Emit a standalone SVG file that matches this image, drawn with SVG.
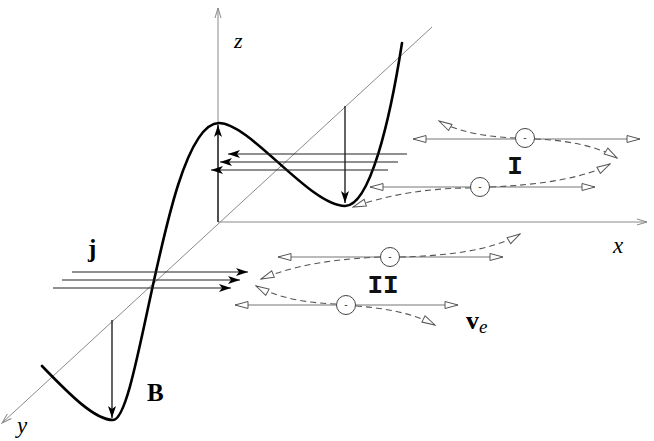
<svg xmlns="http://www.w3.org/2000/svg" width="654" height="441" viewBox="0 0 654 441">
<style>
.axis{stroke:#8a8a8a;stroke-width:1;fill:none}
.curve{stroke:#000;stroke-width:2.6;fill:none;stroke-linecap:round}
.barr{stroke:#111;stroke-width:1.3;fill:none}
.jl{stroke:#222;stroke-width:1.2;fill:none}
.el{stroke:#777;stroke-width:1.1;fill:none}
.dash{stroke:#555;stroke-width:1.1;fill:none;stroke-dasharray:6 4}
.ec{stroke:#444;stroke-width:1;fill:#fff}
.minus{font-family:"Liberation Sans",sans-serif;font-size:10px;fill:#333;text-anchor:middle}
.lab{font-family:"Liberation Serif",serif;fill:#000}
.mono{font-family:"Liberation Mono",monospace;font-weight:bold;fill:#111}
</style>
<defs>
<marker id="fa" viewBox="0 0 12 8" refX="12" refY="4" markerWidth="12" markerHeight="8" markerUnits="userSpaceOnUse" orient="auto">
<path d="M0,0 L12,4 L0,8 L3,4 z" fill="#000"/>
</marker>
<marker id="oa" viewBox="-1 -1 15 9" refX="13" refY="3.5" markerWidth="15" markerHeight="9" markerUnits="userSpaceOnUse" orient="auto-start-reverse">
<path d="M0,0 L13,3.5 L0,7 z" fill="#fff" stroke="#555" stroke-width="1"/>
</marker>
<marker id="ax" viewBox="-1 -1 12 8" refX="10" refY="3" markerWidth="12" markerHeight="8" markerUnits="userSpaceOnUse" orient="auto">
<path d="M0,0 L10,3 L0,6" fill="none" stroke="#8a8a8a" stroke-width="1"/>
</marker>
</defs>

<g id="axes">
<line class="axis" x1="218" y1="222" x2="218" y2="8" marker-end="url(#ax)"/>
<line class="axis" x1="218" y1="222" x2="647" y2="222" marker-end="url(#ax)"/>
<line class="axis" x1="432" y1="27" x2="2" y2="423" marker-end="url(#ax)"/>
<text class="lab" x="234" y="48" font-size="22" font-style="italic">z</text>
<text class="lab" x="613" y="253" font-size="23" font-style="italic">x</text>
<text class="lab" x="17" y="433" font-size="23" font-style="italic">y</text>
</g>

<g id="field-B">
<path class="curve" d="M42,366 C70,395 95,420 113,420 C140,420 165,123 219,123 C250,123 310,206 345,206 C370,206 390,120 402,43"/>
<text class="lab" x="147" y="401" font-size="25" font-weight="bold">B</text>
</g>

<g id="connectors">
<line class="barr" x1="112" y1="320" x2="112" y2="418" marker-end="url(#fa)"/>
<line class="barr" x1="218" y1="222" x2="218" y2="125" marker-end="url(#fa)"/>
<line class="barr" x1="345" y1="106" x2="345" y2="203" marker-end="url(#fa)"/>
<line class="jl" x1="72" y1="272" x2="248" y2="272" marker-end="url(#fa)"/>
<line class="jl" x1="62" y1="280" x2="240" y2="280" marker-end="url(#fa)"/>
<line class="jl" x1="53" y1="288" x2="231" y2="288" marker-end="url(#fa)"/>
<line class="jl" x1="407" y1="154" x2="228" y2="154" marker-end="url(#fa)"/>
<line class="jl" x1="398" y1="162" x2="220" y2="162" marker-end="url(#fa)"/>
<line class="jl" x1="388" y1="170" x2="211" y2="170" marker-end="url(#fa)"/>
</g>

<g id="current-j">
<text class="lab" x="88" y="257" font-size="25" font-weight="bold">j</text>
</g>

<g id="region-I">
<line class="el" x1="413" y1="139" x2="640" y2="139" marker-start="url(#oa)" marker-end="url(#oa)"/>
<path class="dash" d="M516,138 C490,137 460,133 439,121" marker-end="url(#oa)"/>
<path class="dash" d="M535,139 C565,140 598,146 617,158" marker-end="url(#oa)"/>
<circle class="ec" cx="525" cy="138" r="9.5"/>
<text class="minus" x="525" y="141">-</text>
<line class="el" x1="370" y1="187" x2="595" y2="187" marker-start="url(#oa)" marker-end="url(#oa)"/>
<path class="dash" d="M490,187 C540,185 585,178 610,164" marker-end="url(#oa)"/>
<path class="dash" d="M471,188 C430,188 390,194 353,207" marker-end="url(#oa)"/>
<circle class="ec" cx="480" cy="187" r="9.5"/>
<text class="minus" x="480" y="190">-</text>
<text class="mono" x="515" y="174" font-size="26" text-anchor="middle">I</text>
</g>

<g id="region-II">
<line class="el" x1="278" y1="257" x2="503" y2="257" marker-start="url(#oa)" marker-end="url(#oa)"/>
<path class="dash" d="M400,257 C440,256 490,252 520,234" marker-end="url(#oa)"/>
<path class="dash" d="M380,257 C340,259 300,263 261,279" marker-end="url(#oa)"/>
<circle class="ec" cx="390" cy="257" r="9.5"/>
<text class="minus" x="390" y="260">-</text>
<line class="el" x1="235" y1="305" x2="458" y2="305" marker-start="url(#oa)" marker-end="url(#oa)"/>
<path class="dash" d="M336,304 C310,303 280,299 256,286" marker-end="url(#oa)"/>
<path class="dash" d="M356,306 C385,308 412,313 435,325" marker-end="url(#oa)"/>
<circle class="ec" cx="346" cy="305" r="9.5"/>
<text class="minus" x="346" y="308">-</text>
<text class="mono" x="383" y="293" font-size="26" text-anchor="middle">II</text>
<text class="lab" x="466" y="329" font-size="26" font-weight="bold">v<tspan font-size="19" font-weight="normal" font-style="italic" dy="4">e</tspan></text>
</g>
</svg>
